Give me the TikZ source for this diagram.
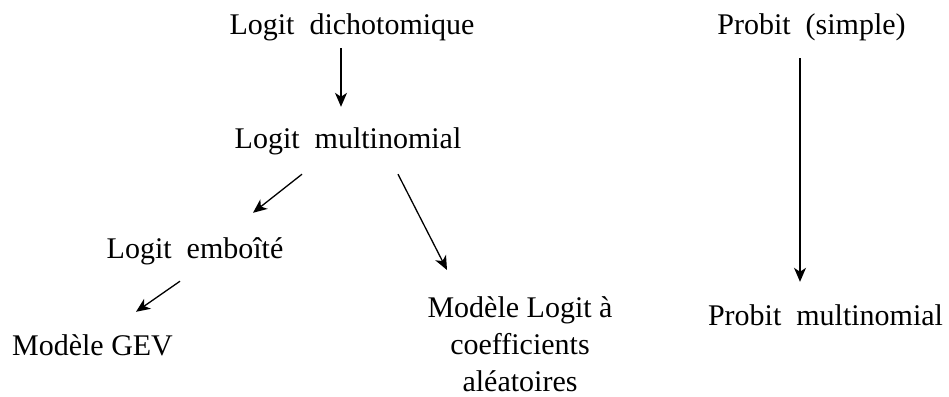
\documentclass[tikz,border=0pt]{standalone}
\usepackage{fontspec}
\setmainfont{Liberation Serif}
\usetikzlibrary{arrows.meta,calc}
\begin{document}
\begin{tikzpicture}[x=1pt,y=-1pt,
  lbl/.style={inner sep=0pt,anchor=base,font=\fontsize{30}{37}\selectfont,text height=20pt,text depth=7pt},
  arr/.style={line width=1.3pt,-{Stealth[length=14pt,width=12pt,inset=4pt]}}]
\useasboundingbox (0,0) rectangle (949,396);
\node[lbl] (ld) at (352,35) {Logit\ \ dichotomique};
\node[lbl] (lm) at (348,148) {Logit\ \ multinomial};
\node[lbl] (le) at (195,258) {Logit\ \ emboîté};
\node[lbl] (mg) at (92.5,355) {Modèle GEV};
\node[inner sep=0pt,anchor=north,align=center,font=\fontsize{30}{37}\selectfont] (ml) at (520,296) {Modèle Logit à\\coefficients\\aléatoires};
\node[lbl] (ps) at (811.5,35) {Probit\ \ (simple)};
\node[lbl] (pm) at (825.5,325) {Probit\ \ multinomial};
\draw[arr] ($(ld.south)+(-11,6)$) -- ($(lm.north)+(-7,-21)$);
\draw[arr] ($(lm.south)+(-46,19)$) -- ($(le.north)+(58,-25)$);
\draw[arr] ($(lm.south)+(50,19)$) -- ($(ml.north)+(-73,-26)$);
\draw[arr] ($(le.south)+(-15,16)$) -- ($(mg.north)+(43.5,-23)$);
\draw[arr] ($(ps.south)+(-11.5,16)$) -- ($(pm.north)+(-25.5,-23)$);
\end{tikzpicture}
\end{document}
